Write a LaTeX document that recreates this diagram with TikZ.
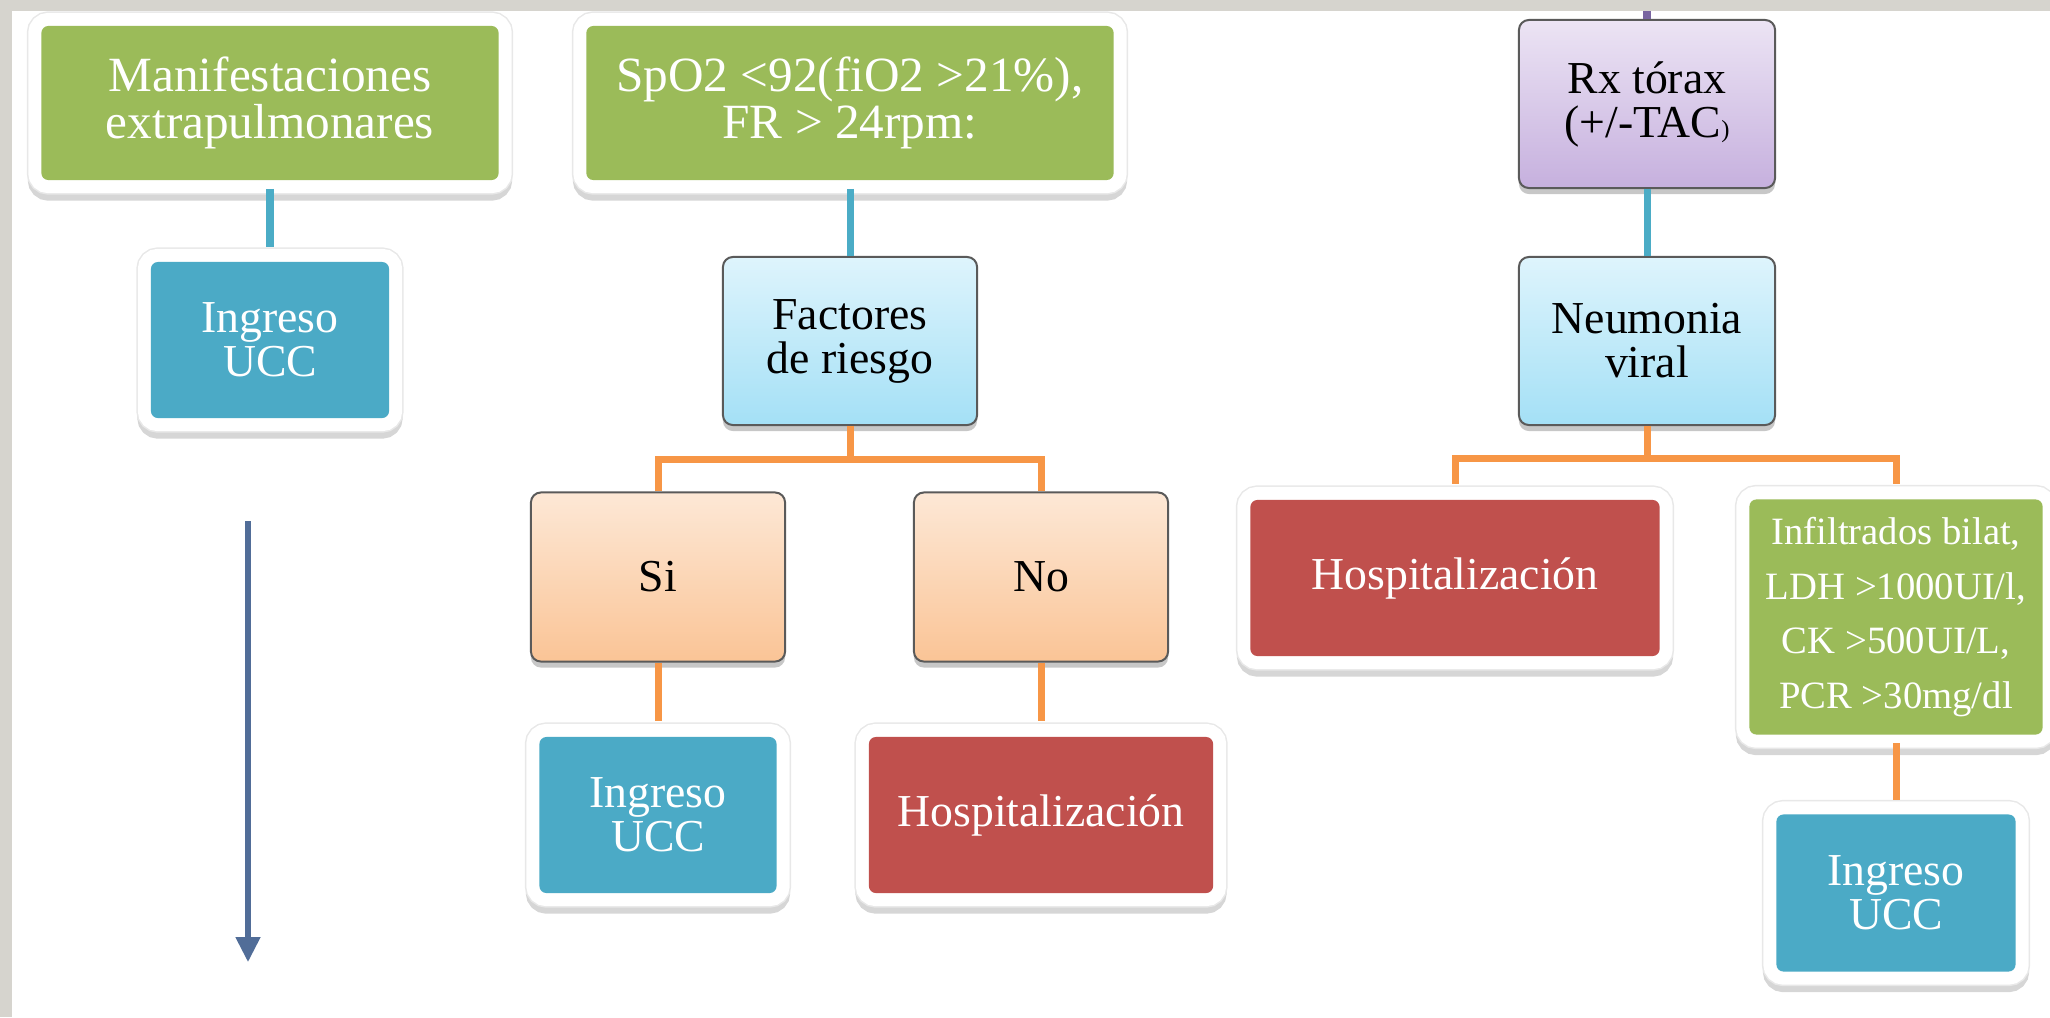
\documentclass[tikz,border=0pt]{standalone}
\usepackage{fontspec}
\setmainfont{Liberation Serif}
\usepackage{tikz}
\usetikzlibrary{arrows.meta}
\definecolor{tgreen}{RGB}{155,187,89}
\definecolor{tblue}{RGB}{75,170,198}
\definecolor{tred}{RGB}{192,80,77}
\definecolor{boxedge}{RGB}{90,90,90}
\definecolor{linkblue}{RGB}{75,172,198}
\definecolor{linkorange}{RGB}{247,150,70}
\definecolor{arrowblue}{RGB}{81,109,152}
\definecolor{stubpurple}{RGB}{120,100,160}
\definecolor{paper}{RGB}{214,212,206}

\begin{document}
\begin{tikzpicture}[
  x=0.01cm, y=-0.01cm,
  font=\fontsize{13}{12.5}\selectfont,
  tile/.style={rectangle, rounded corners=0.07cm, align=center, inner sep=0pt, text=white,
    preaction={draw=black!16, line width=0.27cm, transform canvas={yshift=-0.07cm}},
    preaction={draw=black!9, line width=0.29cm},
    preaction={draw=white, line width=0.26cm}},
  grad/.style={rectangle, rounded corners=0.1cm, align=center, inner sep=0pt,
    draw=boxedge, line width=0.02cm,
    preaction={fill=black!22, transform canvas={yshift=-0.06cm}}},
  sky/.style={grad, top color={rgb,255:red,222;green,244;blue,252}, bottom color={rgb,255:red,164;green,224;blue,246}},
  peach/.style={grad, top color={rgb,255:red,253;green,232;blue,214}, bottom color={rgb,255:red,250;green,196;blue,150}},
  lilac/.style={grad, top color={rgb,255:red,236;green,228;blue,244}, bottom color={rgb,255:red,198;green,176;blue,222}},
  blueline/.style={draw=linkblue, line width=0.07cm},
  orangeline/.style={draw=linkorange, line width=0.07cm},
]
\useasboundingbox (0,0) rectangle (2050,1017);

% ============ page edge ============
\fill[paper] (0,0) rectangle (2050,11);
\fill[paper] (0,0) rectangle (12,1017);

% ============ left column ============
\node[tile, fill=tgreen, minimum width=4.57cm, minimum height=1.54cm, font=\fontsize{14}{13.5}\selectfont] (manif) at (270,103) {Manifestaciones\\extrapulmonares};
\node[tile, fill=tblue, minimum width=2.38cm, minimum height=1.56cm] (ingTL) at (270,340) {Ingreso\\UCC};

% ============ middle column ============
\node[tile, fill=tgreen, minimum width=5.27cm, minimum height=1.54cm, font=\fontsize{14}{13.5}\selectfont] (spo2) at (850,103) {SpO2 <92(fiO2 >21\%),\\FR > 24rpm:};
\node[sky, minimum width=2.54cm, minimum height=1.68cm] (factores) at (850,341) {Factores\\de riesgo};
\node[peach, minimum width=2.54cm, minimum height=1.69cm] (si) at (658,577) {Si};
\node[peach, minimum width=2.54cm, minimum height=1.69cm] (no) at (1041,577) {No};
\node[tile, fill=tblue, minimum width=2.37cm, minimum height=1.56cm] (ingMid) at (658,815) {Ingreso\\UCC};
\node[tile, fill=tred, minimum width=3.44cm, minimum height=1.56cm] (hospMid) at (1041,815) {Hospitalización};

% ============ right column ============
\node[lilac, minimum width=2.56cm, minimum height=1.68cm] (rx) at (1647,104) {Rx tórax\\(+/-TAC{\scriptsize)}};
\node[sky, minimum width=2.56cm, minimum height=1.68cm] (neum) at (1647,341) {Neumonia\\viral};
\node[tile, fill=tred, minimum width=4.09cm, minimum height=1.56cm] (hospR) at (1455,578) {Hospitalización};
\node[tile, fill=tgreen, minimum width=2.93cm, minimum height=2.35cm, font=\fontsize{11}{15.5}\selectfont] (infil) at (1896,617) {Infiltrados bilat,\\LDH >1000UI/l,\\CK >500UI/L,\\PCR >30mg/dl};
\node[tile, fill=tblue, minimum width=2.39cm, minimum height=1.57cm] (ingR) at (1896,893) {Ingreso\\UCC};

% ===================== CONNECTORS =====================
\draw[blueline, shorten <=0.08cm, shorten >=0.14cm] (manif.south) -- (ingTL.north);
\draw[blueline, shorten <=0.08cm] (spo2.south) -- (factores.north);
\draw[blueline] (rx.south) -- (neum.north);

% Factores de riesgo -> Si / No
\draw[orangeline] (factores.south) -- ++(0,33) -| (si.north);
\draw[orangeline] (factores.south) -- ++(0,33) -| (no.north);
\draw[orangeline, shorten >=0.15cm] (si.south) -- (ingMid.north);
\draw[orangeline, shorten >=0.15cm] (no.south) -- (hospMid.north);

% Neumonia viral -> Hospitalizacion / Infiltrados
\draw[orangeline, shorten >=0.15cm] (neum.south) -- ++(0,32) -| (hospR.north);
\draw[orangeline, shorten >=0.15cm] (neum.south) -- ++(0,32) -| (infil.north);
\draw[orangeline, shorten <=0.08cm, shorten >=0.14cm] (infil.south) -- (ingR.north);

% stub above Rx torax
\coordinate (rxstub) at (1647,11);
\draw[draw=stubpurple, line width=0.08cm] (rxstub) -- (rx.north);

% long arrow on the left
\coordinate (arrtop) at (248,521);
\coordinate (arrtip) at (248,962);
\draw[draw=arrowblue, line width=0.05cm, -{Triangle[width=0.24cm,length=0.25cm]}] (arrtop) -- (arrtip);

\end{tikzpicture}
\end{document}
